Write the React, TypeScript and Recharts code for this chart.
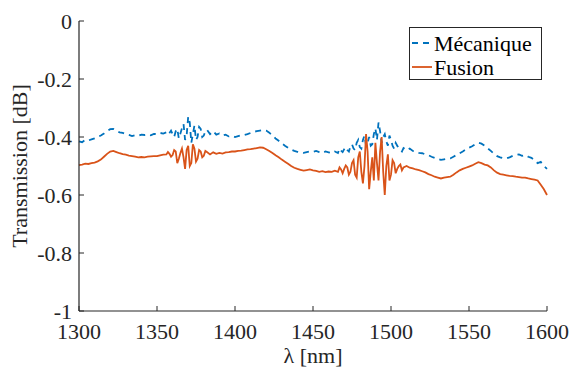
import { LineChart, Line, XAxis, YAxis, Legend } from "recharts";

// main sampling grid, 2 nm step
const WAVELENGTHS = Array.from({ length: 151 }, (_, i) => 1300 + 2 * i);

// transmission in dB (one row = 20 nm)
const MECANIQUE = [
  -0.415, -0.418, -0.41, -0.412, -0.408, -0.405, -0.4, -0.395, -0.388, -0.38,
  -0.373, -0.372, -0.378, -0.384, -0.386, -0.39, -0.393, -0.397, -0.394, -0.396,
  -0.392, -0.393, -0.391, -0.394, -0.389, -0.39, -0.386, -0.388, -0.384, -0.386,
  -0.39, -0.38, -0.405, -0.37, -0.41, -0.33, -0.42, -0.36, -0.4, -0.372,
  -0.395, -0.375, -0.39, -0.38, -0.392, -0.388, -0.395, -0.392, -0.398, -0.396,
  -0.4, -0.397, -0.394, -0.393, -0.39, -0.386, -0.382, -0.38, -0.378, -0.376,
  -0.378, -0.385, -0.395, -0.405, -0.413, -0.422, -0.43, -0.437, -0.443, -0.448,
  -0.451, -0.453, -0.455, -0.452, -0.45, -0.451, -0.448, -0.452, -0.455, -0.45,
  -0.453, -0.456, -0.45, -0.455, -0.447, -0.442, -0.445, -0.432, -0.44, -0.42,
  -0.435, -0.41, -0.43, -0.4, -0.425, -0.37, -0.35, -0.42, -0.39, -0.43,
  -0.41, -0.44, -0.43, -0.445, -0.438, -0.446, -0.44, -0.448, -0.45, -0.455,
  -0.456, -0.46, -0.463, -0.468, -0.472, -0.476, -0.479, -0.477, -0.475, -0.474,
  -0.468, -0.462, -0.456, -0.45, -0.443, -0.437, -0.432, -0.425, -0.42, -0.423,
  -0.43, -0.439, -0.448, -0.458, -0.466, -0.47, -0.473, -0.474, -0.47, -0.465,
  -0.462, -0.46, -0.465, -0.462, -0.468, -0.472, -0.48, -0.49, -0.486, -0.5,
  -0.51,
];

const FUSION = [
  -0.497, -0.495, -0.492, -0.493, -0.49, -0.488, -0.484, -0.478, -0.468, -0.458,
  -0.45, -0.448, -0.452, -0.456, -0.459, -0.461, -0.464, -0.466, -0.468, -0.47,
  -0.469, -0.47, -0.468, -0.467, -0.466, -0.466, -0.463, -0.461, -0.46, -0.458,
  -0.462, -0.45, -0.475, -0.44, -0.51, -0.43, -0.49, -0.44, -0.475, -0.45,
  -0.465, -0.452, -0.46, -0.453, -0.458, -0.455, -0.457, -0.453, -0.452, -0.45,
  -0.45, -0.448, -0.447, -0.445, -0.443, -0.442, -0.44, -0.438, -0.436, -0.437,
  -0.442, -0.448, -0.455, -0.463, -0.47, -0.478, -0.485, -0.492, -0.5, -0.506,
  -0.51, -0.513, -0.516, -0.514, -0.512, -0.515, -0.517, -0.52, -0.518, -0.521,
  -0.519, -0.52, -0.516, -0.52, -0.512, -0.51, -0.505, -0.52, -0.48, -0.54,
  -0.45, -0.56, -0.39, -0.58, -0.47, -0.42, -0.55, -0.4, -0.6, -0.46,
  -0.53, -0.49, -0.51, -0.495, -0.505, -0.5, -0.506, -0.508, -0.512, -0.514,
  -0.518, -0.522, -0.528, -0.532, -0.537, -0.54, -0.543, -0.54, -0.538, -0.537,
  -0.53, -0.522, -0.515, -0.51, -0.506, -0.502, -0.498, -0.492, -0.487, -0.49,
  -0.495, -0.498, -0.505, -0.515, -0.523, -0.528, -0.53, -0.532, -0.534, -0.535,
  -0.537, -0.538, -0.54, -0.54, -0.543, -0.545, -0.547, -0.55, -0.565, -0.58,
  -0.6,
];

// extra odd-nm samples in the two noisy bands
const NOISY_WL_A = [1357, 1359, 1361, 1363, 1365, 1367, 1369, 1371, 1373, 1375, 1377, 1379, 1381];
const MECANIQUE_A = [-0.392, -0.378, -0.4, -0.372, -0.388, -0.355, -0.395, -0.35, -0.39, -0.41, -0.365, -0.4, -0.38];
const FUSION_A = [-0.452, -0.468, -0.445, -0.49, -0.455, -0.47, -0.445, -0.5, -0.425, -0.485, -0.445, -0.47, -0.448];

const NOISY_WL_B = [
  1467, 1469, 1471, 1473, 1475, 1477, 1479, 1481, 1483, 1485, 1487,
  1489, 1491, 1493, 1495, 1497, 1499, 1501, 1503, 1505, 1507,
];
const MECANIQUE_B = [
  -0.44, -0.452, -0.435, -0.45, -0.425, -0.445, -0.41, -0.44, -0.395, -0.42, -0.43,
  -0.39, -0.41, -0.38, -0.4, -0.415, -0.395, -0.43, -0.42, -0.44, -0.45,
];
const FUSION_B = [
  -0.505, -0.525, -0.498, -0.53, -0.49, -0.53, -0.47, -0.52, -0.5, -0.45, -0.52,
  -0.55, -0.49, -0.45, -0.52, -0.5, -0.55, -0.48, -0.525, -0.5, -0.515,
];

const X_TICKS = [1300, 1350, 1400, 1450, 1500, 1550, 1600];
const Y_TICKS = [-1, -0.8, -0.6, -0.4, -0.2, 0];

const BLUE = "#0072BD";
const ORANGE = "#D95319";
const AXIS = "#262626";
const FONT = "'Liberation Serif', 'Times New Roman', serif";
const DASH = "6 5";

const data = [
  ...WAVELENGTHS.map((wl, i) => ({ wl, mecanique: MECANIQUE[i], fusion: FUSION[i] })),
  ...NOISY_WL_A.map((wl, i) => ({ wl, mecanique: MECANIQUE_A[i], fusion: FUSION_A[i] })),
  ...NOISY_WL_B.map((wl, i) => ({ wl, mecanique: MECANIQUE_B[i], fusion: FUSION_B[i] })),
].sort((a, b) => a.wl - b.wl);

// MATLAB style: ticks point inwards
function BottomTick({ x, y, payload }: any) {
  return (
    <g>
      <line x1={x} y1={y} x2={x} y2={y - 5} stroke={AXIS} />
      <text x={x} y={y + 28} textAnchor="middle" fontSize={22} fontFamily={FONT} fill={AXIS}>
        {payload.value}
      </text>
    </g>
  );
}

function LeftTick({ x, y, payload }: any) {
  return (
    <g>
      <line x1={x} y1={y} x2={x + 5} y2={y} stroke={AXIS} />
      <text x={x - 7} y={y + 8} textAnchor="end" fontSize={22} fontFamily={FONT} fill={AXIS}>
        {String(payload.value)}
      </text>
    </g>
  );
}

function TopTick({ x, y }: any) {
  return <line x1={x} y1={y} x2={x} y2={y + 5} stroke={AXIS} />;
}

function RightTick({ x, y }: any) {
  return <line x1={x} y1={y} x2={x - 5} y2={y} stroke={AXIS} />;
}

function LegendBox() {
  return (
    <svg width={134} height={54} style={{ display: "block" }}>
      <rect x={0.5} y={0.5} width={132} height={52} fill="#fff" stroke={AXIS} />
      <line x1={3} y1={16} x2={23} y2={16} stroke={BLUE} strokeWidth={1.8} strokeDasharray={DASH} />
      <text x={25} y={24} fontSize={22} fontFamily={FONT} fill="#000">
        Mécanique
      </text>
      <line x1={3} y1={40} x2={23} y2={40} stroke={ORANGE} strokeWidth={1.8} />
      <text x={25} y={48} fontSize={22} fontFamily={FONT} fill="#000">
        Fusion
      </text>
    </svg>
  );
}

export default function App() {
  return (
    <div style={{ position: "absolute", left: 0, top: 0, background: "#fff" }}>
      <LineChart
        width={571}
        height={370}
        data={data}
        margin={{ top: 21, right: 24, bottom: 0, left: 0 }}
      >
        <XAxis
          xAxisId="b"
          dataKey="wl"
          type="number"
          domain={[1300, 1600]}
          ticks={X_TICKS}
          height={59}
          tickSize={0}
          tickMargin={0}
          tick={<BottomTick />}
          axisLine={{ stroke: AXIS, strokeWidth: 1.2 }}
          label={{
            content: ({ viewBox }: any) => (
              <text
                x={viewBox.x + viewBox.width / 2}
                y={viewBox.y + 52}
                textAnchor="middle"
                fontSize={22}
                fontFamily={FONT}
                fill={AXIS}
              >
                λ [nm]
              </text>
            ),
          }}
        />
        <XAxis
          xAxisId="t"
          orientation="top"
          dataKey="wl"
          type="number"
          domain={[1300, 1600]}
          ticks={X_TICKS}
          height={0}
          tickSize={0}
          tickMargin={0}
          tick={<TopTick />}
          axisLine={{ stroke: AXIS, strokeWidth: 1.2 }}
        />
        <YAxis
          yAxisId="l"
          type="number"
          domain={[-1, 0]}
          ticks={Y_TICKS}
          width={79}
          tickSize={0}
          tickMargin={0}
          tick={<LeftTick />}
          axisLine={{ stroke: AXIS, strokeWidth: 1.2 }}
          label={{
            content: ({ viewBox }: any) => {
              const cy = viewBox.y + viewBox.height / 2;
              return (
                <text
                  x={27}
                  y={cy}
                  transform={`rotate(-90 27 ${cy})`}
                  textAnchor="middle"
                  fontSize={22}
                  fontFamily={FONT}
                  fill={AXIS}
                >
                  Transmission [dB]
                </text>
              );
            },
          }}
        />
        <YAxis
          yAxisId="r"
          orientation="right"
          type="number"
          domain={[-1, 0]}
          ticks={Y_TICKS}
          width={0}
          tickSize={0}
          tickMargin={0}
          tick={<RightTick />}
          axisLine={{ stroke: AXIS, strokeWidth: 1.2 }}
        />
        <Legend
          layout="horizontal"
          verticalAlign="middle"
          align="center"
          content={() => <LegendBox />}
          wrapperStyle={{ position: "absolute", left: 409, top: 27, width: 134, height: 54 }}
        />
        <Line
          xAxisId="b"
          yAxisId="l"
          dataKey="mecanique"
          name="Mécanique"
          stroke={BLUE}
          strokeWidth={1.8}
          strokeDasharray={DASH}
          dot={false}
          type="linear"
          isAnimationActive={false}
        />
        <Line
          xAxisId="b"
          yAxisId="l"
          dataKey="fusion"
          name="Fusion"
          stroke={ORANGE}
          strokeWidth={1.8}
          dot={false}
          type="linear"
          isAnimationActive={false}
        />
      </LineChart>
    </div>
  );
}
